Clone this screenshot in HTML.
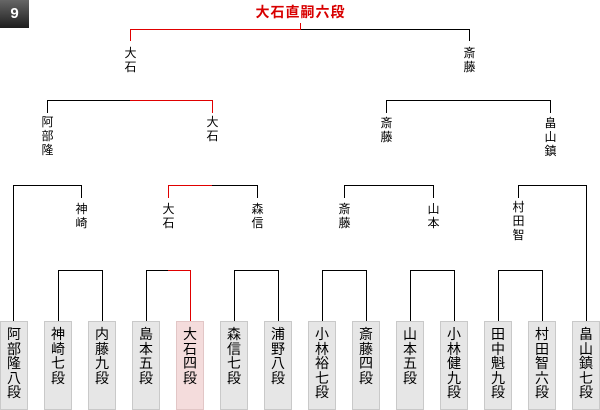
<!DOCTYPE html>
<html><head><meta charset="utf-8">
<style>
html,body{margin:0;padding:0;background:#fff;}
#c{position:relative;width:600px;height:410px;overflow:hidden;background:#fff;font-family:"Liberation Sans","Noto Sans CJK JP",sans-serif;}
.h,.v{position:absolute;background:#000;}
.h{height:1px;}
.v{width:1px;}
.r{background:#e00000;}
.l{position:absolute;width:24px;margin-left:-11.5px;text-align:center;font-size:12px;line-height:14px;color:#000;font-family:"Noto Sans CJK JP",sans-serif;}
.b{position:absolute;top:321px;width:28px;height:89px;box-sizing:border-box;border:1px solid #c9c9c9;background:#e6e6e6;text-align:center;font-size:14px;line-height:14.5px;padding-top:5px;color:#000;font-family:"Noto Sans CJK JP",sans-serif;}
.b.w{background:#f4dcdc;border-color:#e2c6c6;}
#badge{position:absolute;left:0;top:0;width:29px;height:28px;background:linear-gradient(#666,#1e1e1e);color:#fff;font:bold 15px/28px "Liberation Sans",sans-serif;text-align:center;}
#champ{position:absolute;left:200px;width:201px;top:4px;text-align:center;color:#d80000;font-weight:bold;font-size:14px;line-height:16px;letter-spacing:1px;font-family:"Noto Sans CJK JP",sans-serif;}
</style></head><body>
<div id="c">
<div id="badge">9</div>
<div id="champ">大石直嗣六段</div>

<!-- final -->
<div class="v r" style="left:300px;top:23px;height:7px"></div>
<div class="h r" style="left:130px;top:29px;width:171px"></div>
<div class="h" style="left:301px;top:29px;width:169px"></div>
<div class="v r" style="left:130px;top:29px;height:12px"></div>
<div class="v" style="left:469px;top:29px;height:12px"></div>

<!-- r3 -->
<div class="h" style="left:47px;top:100px;width:83px"></div>
<div class="h r" style="left:130px;top:100px;width:83px"></div>
<div class="v" style="left:47px;top:100px;height:13px"></div>
<div class="v r" style="left:212px;top:100px;height:13px"></div>
<div class="h" style="left:386px;top:100px;width:165px"></div>
<div class="v" style="left:386px;top:100px;height:13px"></div>
<div class="v" style="left:550px;top:100px;height:13px"></div>

<!-- r2 -->
<div class="h" style="left:13px;top:185px;width:69px"></div>
<div class="v" style="left:13px;top:185px;height:137px"></div>
<div class="v" style="left:81px;top:185px;height:13px"></div>
<div class="h r" style="left:168px;top:185px;width:44px"></div>
<div class="h" style="left:212px;top:185px;width:46px"></div>
<div class="v r" style="left:168px;top:185px;height:13px"></div>
<div class="v" style="left:257px;top:185px;height:13px"></div>
<div class="h" style="left:344px;top:185px;width:90px"></div>
<div class="v" style="left:344px;top:185px;height:13px"></div>
<div class="v" style="left:433px;top:185px;height:13px"></div>
<div class="h" style="left:518px;top:185px;width:69px"></div>
<div class="v" style="left:518px;top:185px;height:13px"></div>
<div class="v" style="left:586px;top:185px;height:137px"></div>

<!-- r1 pairs -->
<div class="h" style="left:58px;top:270px;width:45px"></div>
<div class="v" style="left:58px;top:270px;height:52px"></div>
<div class="v" style="left:102px;top:270px;height:52px"></div>
<div class="h" style="left:146px;top:270px;width:22px"></div>
<div class="h r" style="left:168px;top:270px;width:23px"></div>
<div class="v" style="left:146px;top:270px;height:52px"></div>
<div class="v r" style="left:190px;top:270px;height:52px"></div>
<div class="h" style="left:234px;top:270px;width:45px"></div>
<div class="v" style="left:234px;top:270px;height:52px"></div>
<div class="v" style="left:278px;top:270px;height:52px"></div>
<div class="h" style="left:322px;top:270px;width:45px"></div>
<div class="v" style="left:322px;top:270px;height:52px"></div>
<div class="v" style="left:366px;top:270px;height:52px"></div>
<div class="h" style="left:410px;top:270px;width:45px"></div>
<div class="v" style="left:410px;top:270px;height:52px"></div>
<div class="v" style="left:454px;top:270px;height:52px"></div>
<div class="h" style="left:498px;top:270px;width:45px"></div>
<div class="v" style="left:498px;top:270px;height:52px"></div>
<div class="v" style="left:542px;top:270px;height:52px"></div>

<!-- labels r4 -->
<div class="l" style="left:130px;top:46px">大<br>石</div>
<div class="l" style="left:469px;top:46px">斎<br>藤</div>
<!-- labels r3 -->
<div class="l" style="left:47px;top:115px">阿<br>部<br>隆</div>
<div class="l" style="left:212px;top:115px">大<br>石</div>
<div class="l" style="left:386px;top:116px">斎<br>藤</div>
<div class="l" style="left:550px;top:116px">畠<br>山<br>鎮</div>
<!-- labels r2 -->
<div class="l" style="left:81px;top:202px">神<br>崎</div>
<div class="l" style="left:168px;top:202px">大<br>石</div>
<div class="l" style="left:257px;top:202px">森<br>信</div>
<div class="l" style="left:344px;top:202px">斎<br>藤</div>
<div class="l" style="left:433px;top:202px">山<br>本</div>
<div class="l" style="left:518px;top:200px">村<br>田<br>智</div>

<!-- leaves -->
<div class="b" style="left:0px">阿<br>部<br>隆<br>八<br>段</div>
<div class="b" style="left:44px">神<br>崎<br>七<br>段</div>
<div class="b" style="left:88px">内<br>藤<br>九<br>段</div>
<div class="b" style="left:132px">島<br>本<br>五<br>段</div>
<div class="b w" style="left:176px">大<br>石<br>四<br>段</div>
<div class="b" style="left:220px">森<br>信<br>七<br>段</div>
<div class="b" style="left:264px">浦<br>野<br>八<br>段</div>
<div class="b" style="left:308px">小<br>林<br>裕<br>七<br>段</div>
<div class="b" style="left:352px">斎<br>藤<br>四<br>段</div>
<div class="b" style="left:396px">山<br>本<br>五<br>段</div>
<div class="b" style="left:440px">小<br>林<br>健<br>九<br>段</div>
<div class="b" style="left:484px">田<br>中<br>魁<br>九<br>段</div>
<div class="b" style="left:528px">村<br>田<br>智<br>六<br>段</div>
<div class="b" style="left:572px">畠<br>山<br>鎮<br>七<br>段</div>
</div>
</body></html>
